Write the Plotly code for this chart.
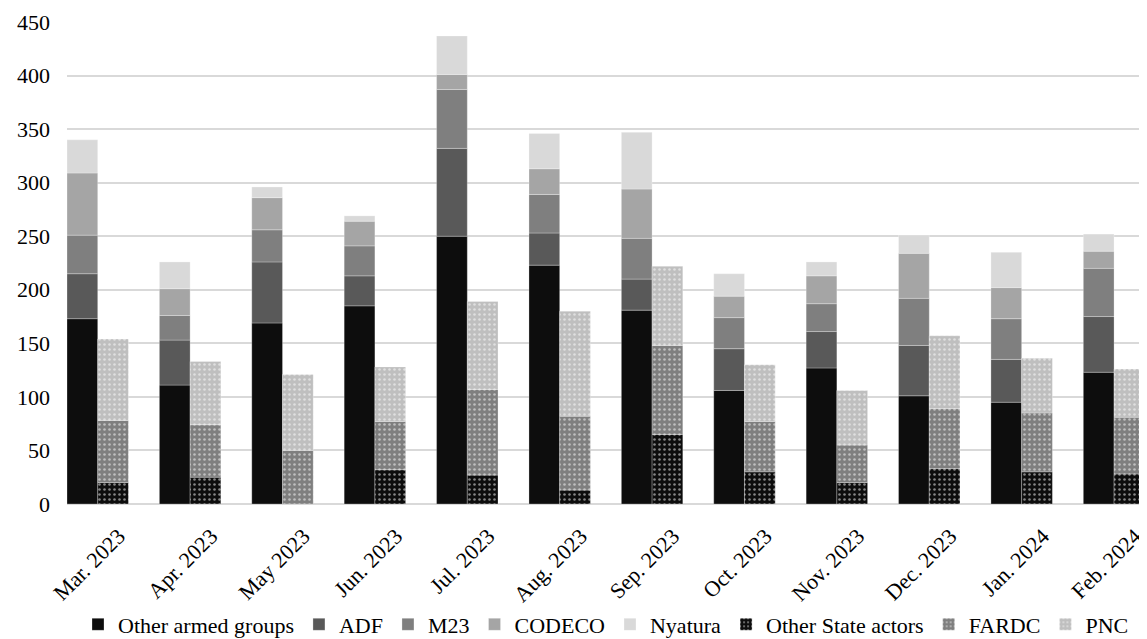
import numpy as np
import plotly.graph_objects as go

months = ["Mar. 2023", "Apr. 2023", "May 2023", "Jun. 2023", "Jul. 2023", "Aug. 2023",
          "Sep. 2023", "Oct. 2023", "Nov. 2023", "Dec. 2023", "Jan. 2024", "Feb. 2024"]

# Armed groups stack
other_armed = [173, 111, 169, 185, 250, 223, 181, 106, 127, 101, 95, 123]
adf = [42, 42, 57, 28, 82, 30, 29, 39, 34, 47, 40, 52]
m23 = [36, 23, 30, 28, 55, 36, 38, 29, 26, 44, 38, 45]
codeco = [58, 25, 30, 23, 14, 24, 46, 20, 26, 42, 29, 16]
nyatura = [31, 25, 10, 5, 36, 33, 53, 21, 13, 17, 33, 16]

# State actors stack
other_state = [20, 25, 0, 32, 27, 13, 65, 30, 20, 33, 30, 28]
fardc = [58, 49, 50, 45, 80, 69, 83, 47, 35, 56, 55, 53]
pnc = [76, 59, 71, 51, 82, 98, 74, 53, 51, 68, 51, 45]

armed_series = [("Other armed groups", other_armed, "#0d0d0d"),
                ("ADF", adf, "#595959"),
                ("M23", m23, "#7f7f7f"),
                ("CODECO", codeco, "#a5a5a5"),
                ("Nyatura", nyatura, "#d9d9d9")]
state_series = [("Other State actors", other_state, "#0d0d0d"),
                ("FARDC", fardc, "#7f7f7f"),
                ("PNC", pnc, "#bfbfbf")]

BW = 0.3325
FONT = "Liberation Serif"
FS = 22

fig = go.Figure()

base = np.zeros(len(months))
for name, vals, col in armed_series:
    v = np.array(vals, dtype=float)
    fig.add_trace(go.Bar(
        x=months, y=v, base=base.copy(), name=name,
        offset=-0.56, width=BW,
        marker=dict(color=col, line=dict(color="rgba(255,255,255,0.45)", width=0.6)),
    ))
    base = base + v

base = np.zeros(len(months))
for name, vals, col in state_series:
    v = np.array(vals, dtype=float)
    fig.add_trace(go.Bar(
        x=months, y=v, base=base.copy(), name=name,
        offset=-0.56 + BW, width=BW,
        marker=dict(color=col,
                    line=dict(color="rgba(255,255,255,0.45)", width=0.6),
                    pattern=dict(shape=".", bgcolor=col, fgcolor="white",
                                 size=5, solidity=0.2, fillmode="overlay")),
    ))
    base = base + v

fig.update_layout(
    barmode="overlay",
    width=1139, height=639,
    margin=dict(l=59, r=2, t=14, b=141),
    paper_bgcolor="white", plot_bgcolor="white",
    font=dict(family=FONT, size=FS, color="black"),
    showlegend=True,
    legend=dict(orientation="h", x=0.5, xanchor="center", y=-0.25, yanchor="middle",
                font=dict(family=FONT, size=FS, color="black"),
                itemwidth=30, tracegroupgap=0, traceorder="normal"),
    xaxis=dict(type="category", range=[-0.56, 11.44 - BW], automargin=False,
               tickangle=-45, showgrid=False, ticks="", showline=False,
               ticklabelstandoff=14,
               tickfont=dict(family=FONT, size=FS, color="black")),
    yaxis=dict(range=[0, 450], dtick=50, showgrid=True, gridcolor="#d9d9d9", gridwidth=1.5,
               zeroline=True, zerolinecolor="#d9d9d9", zerolinewidth=1.5,
               ticks="", showline=False, automargin=False,
               ticklabelstandoff=16,
               tickfont=dict(family=FONT, size=FS, color="black")),
)

fig.write_html("out.html")
